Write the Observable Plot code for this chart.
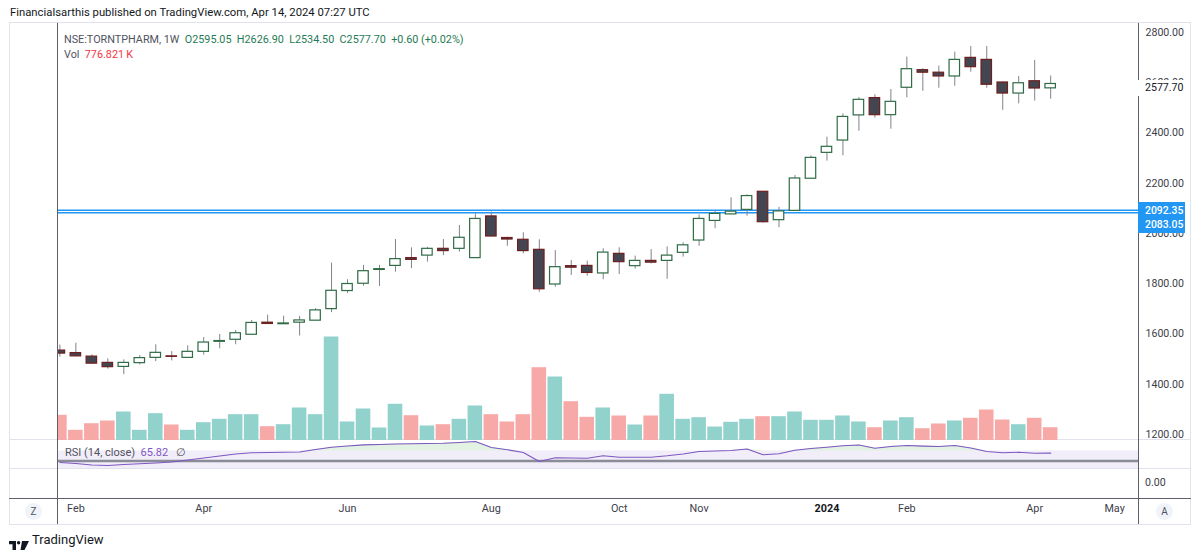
<!DOCTYPE html>
<html><head><meta charset="utf-8">
<script src="https://cdn.jsdelivr.net/npm/d3@7"></script>
<script src="https://cdn.jsdelivr.net/npm/@observablehq/plot@0.6"></script>
<style>
body{margin:0;background:#fff;}
#wrap{position:relative;width:1200px;height:557px;overflow:hidden;font-family:Roboto,"Liberation Sans",sans-serif;color:#131722}
.abs{position:absolute}
svg.pl{position:absolute;left:0}
</style></head><body><div id="wrap"></div>
<script>
// ---- data (weekly bars, NSE:TORNTPHARM) ----
const firstWeek = "2023-01-30";
const open  = [1534,1524,1510,1485,1469,1484,1505,1511,1505,1529,1569,1577,1597,1645,1639,1645,1653,1699,1771,1800,1855,1871,1902,1912,1939,1939,1902,2068,1982,1975,1935,1797,1870,1871,1841,1919,1870,1891,1891,1923,1972,2050,2076,2094,2166,2053,2090,2218,2321,2370,2470,2539,2471,2580,2650,2640,2625,2699,2691,2601,2557,2606,2595.05];
const high  = [1556,1563,1517,1501,1497,1514,1557,1530,1553,1586,1598,1614,1654,1675,1671,1670,1701,1882,1816,1873,1873,1976,1943,1945,1976,2032,2078,2085,1985,2003,1975,1932,1893,1890,1939,1943,1910,1936,1947,1963,2074,2088,2142,2154,2167,2104,2231,2309,2383,2476,2541,2552,2573,2702,2656,2666,2722,2744,2744,2603,2625,2689,2626.90];
const low   = [1508,1509,1480,1460,1438,1477,1490,1493,1504,1516,1541,1557,1595,1639,1638,1592,1652,1685,1761,1790,1789,1846,1860,1886,1912,1926,1901,1987,1949,1919,1766,1786,1833,1830,1816,1837,1858,1879,1818,1906,1949,2019,2075,2069,2041,2023,2089,2217,2288,2309,2407,2459,2415,2540,2566,2578,2586,2642,2578,2490,2516,2527,2534.50];
const close = [1522,1511,1482,1468,1485,1504,1525,1509,1529,1566,1572,1603,1644,1640,1642,1654,1694,1772,1799,1850,1858,1898,1895,1939,1930,1983,2058,1988,1976,1930,1778,1866,1864,1843,1924,1886,1891,1884,1912,1953,2058,2078,2087,2149,2045,2088,2219,2301,2345,2464,2532,2471,2524,2654,2640,2625,2691,2662,2592,2557,2598,2577.10,2577.70];
const volumeK = [1530,619,1020,1184,1730,619,1627,941,619,1080,1287,1566,1566,838,959,1973,1566,6282,1123,1912,759,2197,1505,880,959,1287,2094,1566,1123,1566,4419,3854,2355,1408,1973,1487,941,1487,2804,1287,1384,819,1105,1287,1445,1445,1730,1226,1226,1487,1123,777,1184,1384,716,1002,1184,1348,1851,1244,959,1348,776.821];
const rsi = [47,45,42,41,43,44.4,46,48,52,56,60,64,66.4,67,67.4,68,73,77.6,80,82.2,83,84,84.6,85,85.6,87,89,77,72.4,67,49,56.4,56,55.6,60.4,57.4,57.6,57.6,60.4,64,69,70,71,74,62.4,64.6,71.4,75,77.6,80.4,82,75.6,79,81,79.8,79,81,76,69,66.6,67.4,65.6,65.82];
const levels = [2092.35, 2083.05];
const lastClose = 2577.70;
const priceTicks = [1200,1400,1600,1800,2000,2200,2400,2600,2800];
const rsiBand = [30, 70];
const rsiMid = [50];
const monthTickWeeks = ["2023-02-06","2023-04-03","2023-06-05","2023-08-07","2023-10-02","2023-11-06","2024-01-01","2024-02-05","2024-04-01","2024-05-06"];
const monthTickLabels = ["Feb","Apr","Jun","Aug","Oct","Nov","2024","Feb","Apr","May"];

// ---- build ----
const FONT = 'Roboto, "Liberation Sans", sans-serif';
const DAY = 864e5;
const rows = open.map((o, i) => {
  const date = d3.utcDay.offset(new Date(firstWeek), 7 * i);
  return {
    date, end: d3.utcDay.offset(date, 7), mid: new Date(+date + 3.5 * DAY),
    o, h: high[i], l: low[i], c: close[i], v: volumeK[i], r: rsi[i],
    up: i === 0 ? close[i] >= o : close[i] >= close[i - 1],
    volUp: close[i] >= o
  };
});
const ticks = monthTickWeeks.map((w, i) => ({at: new Date(+new Date(w) + 3.5 * DAY), label: monthTickLabels[i]}));
const xDomain = [new Date("2023-02-01T10:52Z"), new Date("2024-05-19T23:17Z")];
const base = {width: 1200, marginLeft: 57, marginRight: 62, marginTop: 0, marginBottom: 0,
  style: {background: "transparent", overflow: "visible", fontFamily: FONT, fontSize: "10.6px", color: "#3d404a"},
  color: {type: "identity"}};

const wrap = document.getElementById("wrap");
function div(css, html) { const d = document.createElement("div"); d.className = "abs"; d.style.cssText = css; if (html) d.innerHTML = html; wrap.appendChild(d); return d; }

// frame & separators
div("left:9px;top:22px;width:1182px;height:503px;border:1px solid #e0e3eb;box-sizing:border-box;");
div("left:9px;top:439px;width:1182px;height:1px;background:#e0e3eb;");
div("left:9px;top:468px;width:1182px;height:1px;background:#e0e3eb;");

// volume (overlay, below candles)
const vol = Plot.plot({...base, height: 418,
  x: {type: "utc", domain: xDomain, axis: null},
  y: {domain: [0, 25370], axis: null},
  marks: [
    Plot.rect(rows, {x1: "date", x2: "end", y1: 0, y2: "v", insetLeft: 0.7, insetRight: 0.7,
      fill: d => d.volUp ? "#92d2cc" : "#f7a9a7", clip: true})
  ]});
vol.classList.add("pl"); vol.style.top = "22px"; wrap.appendChild(vol);

// price pane
const price = Plot.plot({...base, height: 418,
  x: {type: "utc", domain: xDomain, axis: null},
  y: {domain: [1176.1, 2839.8]},
  marks: [
    Plot.axisY({ticks: priceTicks, anchor: "right", tickSize: 0, tickPadding: 7, tickFormat: d => d.toFixed(2), label: null}),
    Plot.ruleY(levels, {stroke: "#2196f3", strokeWidth: 1.5}),
    Plot.ruleX(rows, {x: "mid", y1: "l", y2: "h", stroke: "#80838c", strokeWidth: 1, clip: true}),
    Plot.rect(rows, {x1: "date", x2: "end", y1: d => Math.min(d.o, d.c), y2: d => Math.max(d.o, d.c),
      insetLeft: 2.75, insetRight: 2.75, fill: d => d.up ? "#ffffff" : "#434651",
      stroke: d => d.up ? "#2f6b45" : "#6e1f1f", strokeWidth: 1.2, clip: true})
  ]});
price.classList.add("pl"); price.style.top = "22px"; wrap.appendChild(price);

// RSI pane
const rsiPlot = Plot.plot({...base, height: 28,
  x: {type: "utc", domain: xDomain, axis: null},
  y: {domain: [35, 91], axis: null},
  marks: [
    Plot.rect([rsiBand], {y1: d => d[0], y2: d => d[1], fill: "#7e57c2", fillOpacity: 0.1, clip: true}),
    Plot.ruleY(rsiMid, {stroke: "#787b86", strokeWidth: 2.6, strokeOpacity: 0.85}),
    Plot.areaY(rows, {x: "mid", y1: 70, y2: d => Math.max(70, d.r), fill: "#4caf50", fillOpacity: 0.16, clip: true}),
    Plot.lineY(rows, {x: "mid", y: "r", stroke: "#7e57c2", strokeWidth: 1.1, clip: true})
  ]});
rsiPlot.classList.add("pl"); rsiPlot.style.top = "440px"; wrap.appendChild(rsiPlot);

// time axis
const axisPlot = Plot.plot({...base, height: 56,
  x: {type: "utc", domain: xDomain, axis: null},
  marks: [
    Plot.text(ticks.filter(t => t.label !== "2024"), {x: "at", text: "label", frameAnchor: "bottom", dy: -12.5, fill: "#3d404a", fontSize: 10.8}),
    Plot.text(ticks.filter(t => t.label === "2024"), {x: "at", text: "label", frameAnchor: "bottom", dy: -12.5, fill: "#131722", fontSize: 10.8, fontWeight: 700})
  ]});
axisPlot.classList.add("pl"); axisPlot.style.top = "468px"; wrap.appendChild(axisPlot);

// dark pane borders
div("left:57px;top:23px;width:1px;height:501px;background:#5d606b;");
div("left:1138px;top:23px;width:1px;height:501px;background:#5d606b;");
div("left:9px;top:498px;width:1182px;height:1px;background:#5d606b;");

// price-scale labels, positioned with the plot's y scale
{
  const y = price.scale("y");
  const c0 = y.apply(lastClose) + 22;
  div(`left:1134px;top:${c0 - 8}px;width:56px;height:16px;background:#fff;font-size:10.6px;line-height:16px;color:#131722;padding-left:11px;box-sizing:border-box;`, lastClose.toFixed(2));
  const c1 = y.apply(levels[0]) + 1 + 22, c2 = c1 + 14.5;
  div(`left:1138px;top:${c1 - 8.5}px;width:47px;height:${c2 - c1 + 16.5}px;background:#2196f3;`);
  div(`left:1145px;top:${c1 - 8}px;font-size:10.4px;line-height:16px;color:#fff;font-weight:500;`, levels[0].toFixed(2));
  div(`left:1145px;top:${c2 - 8}px;font-size:10.4px;line-height:16px;color:#fff;font-weight:500;`, levels[1].toFixed(2));
}

// texts
div("left:10px;top:6px;font-size:11.3px;color:#131722;white-space:nowrap;", "Financialsarthis published on TradingView.com, Apr 14, 2024 07:27 UTC");
div("left:64px;top:33px;font-size:10.8px;color:#50535e;white-space:nowrap;",
  'NSE:TORNTPHARM, 1W&nbsp;&nbsp;<span style="color:#1f7a55">O2595.05&nbsp;&nbsp;H2626.90&nbsp;&nbsp;L2534.50&nbsp;&nbsp;C2577.70&nbsp;&nbsp;+0.60 (+0.02%)</span>');
div("left:64px;top:48px;font-size:10.8px;color:#50535e;white-space:nowrap;", 'Vol&nbsp;&nbsp;<span style="color:#f23645">776.821&thinsp;K</span>');
div("left:65px;top:446px;font-size:11px;color:#50535e;white-space:nowrap;", 'RSI (14, close)&nbsp;&nbsp;<span style="color:#7e57c2">65.82</span>&nbsp;&nbsp;&nbsp;∅');
div("left:1145px;top:476px;font-size:10.6px;color:#3d404a;", "0.00");
div("left:25px;top:503px;width:17px;height:17px;border-radius:50%;background:#f0f3fa;font-size:10px;line-height:17px;text-align:center;color:#50535e;", "Z");
div("left:1156px;top:503px;width:17px;height:17px;border-radius:50%;background:#f0f3fa;font-size:10px;line-height:17px;text-align:center;color:#50535e;", "A");
div("left:9px;top:536px;width:20px;height:10px;",
  '<svg width="20" height="10" viewBox="0 0 20 10"><path d="M0 0H7V9H3.5V3.2H0Z" fill="#131722"/><circle cx="9.6" cy="1.7" r="1.7" fill="#131722"/><path d="M13 0H20L15.5 9H11.5Z" fill="#131722"/></svg>');
div("left:32px;top:532px;font-size:13px;color:#131722;", "TradingView");
</script>
</body></html>
